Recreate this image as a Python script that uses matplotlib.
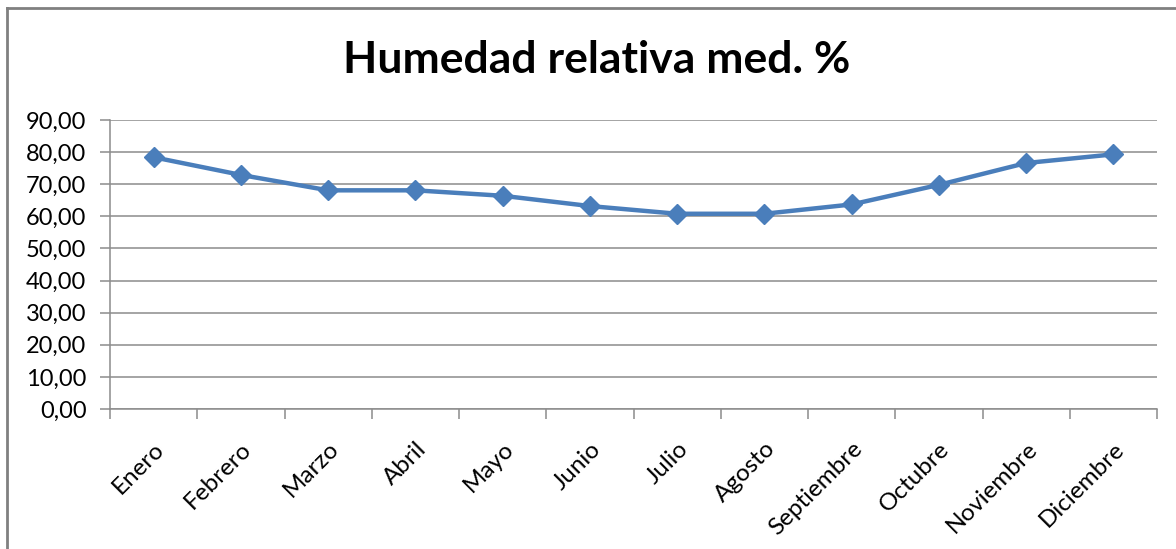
import matplotlib
matplotlib.use("Agg")
import matplotlib.pyplot as plt
from matplotlib.lines import Line2D

months = ["Enero", "Febrero", "Marzo", "Abril", "Mayo", "Junio", "Julio",
          "Agosto", "Septiembre", "Octubre", "Noviembre", "Diciembre"]
humidity = [78.4, 72.9, 68.1, 68.1, 66.4, 63.2, 60.8, 60.8, 63.7, 69.8, 76.6, 79.3]
yticks = [0, 10, 20, 30, 40, 50, 60, 70, 80, 90]
ytick_labels = ["0,00", "10,00", "20,00", "30,00", "40,00", "50,00",
                "60,00", "70,00", "80,00", "90,00"]
title = "Humedad relativa med. %"

plt.rcParams['font.family'] = ['Lato', 'DejaVu Sans']

W, H = 1176, 549
fig = plt.figure(figsize=(W / 100, H / 100), dpi=100)
ax = fig.add_axes([110 / W, 1 - 409 / H, (1157 - 110) / W, (409 - 120) / H])

x = list(range(len(months)))
ax.plot(x, humidity, color="#4A7EBB", linewidth=3.2, marker="D",
        markersize=10.5, markerfacecolor="#4A7EBB", markeredgecolor="#4A7EBB",
        zorder=3, clip_on=False)

ax.set_xlim(-0.5, len(months) - 0.5)
ax.set_ylim(0, 90)
ax.set_yticks(yticks)
ax.set_yticklabels(ytick_labels, fontsize=17)
ax.yaxis.grid(True, color="#8c8c8c", linewidth=1.1)
ax.set_axisbelow(True)

ax.set_xticks(x)
ax.set_xticklabels(months, rotation=45, ha="right", rotation_mode="anchor",
                   fontsize=17.5)
ax.tick_params(axis="x", length=0, pad=21)
# tick marks at category boundaries
ax.set_xticks([i - 0.5 for i in range(len(months) + 1)], minor=True)
ax.tick_params(axis="x", which="minor", length=7, color="#8c8c8c", width=1.1)
ax.tick_params(axis="y", length=7, color="#8c8c8c", width=1.1, pad=10)

for s in ["top", "right"]:
    ax.spines[s].set_visible(False)
for s in ["left", "bottom"]:
    ax.spines[s].set_color("#8c8c8c")
    ax.spines[s].set_linewidth(1.1)

fig.text(597 / W, 1 - 60 / H, title, ha="center", va="center",
         fontsize=32, fontweight="bold")

# outer chart border
fig.add_artist(Line2D([7 / W, 7 / W], [0, 1 - 8 / H], color="#808080", linewidth=2,
                      transform=fig.transFigure))
fig.add_artist(Line2D([7 / W, 1], [1 - 8 / H, 1 - 8 / H], color="#808080", linewidth=2,
                      transform=fig.transFigure))

fig.savefig("out.png", dpi=100, facecolor="white")
